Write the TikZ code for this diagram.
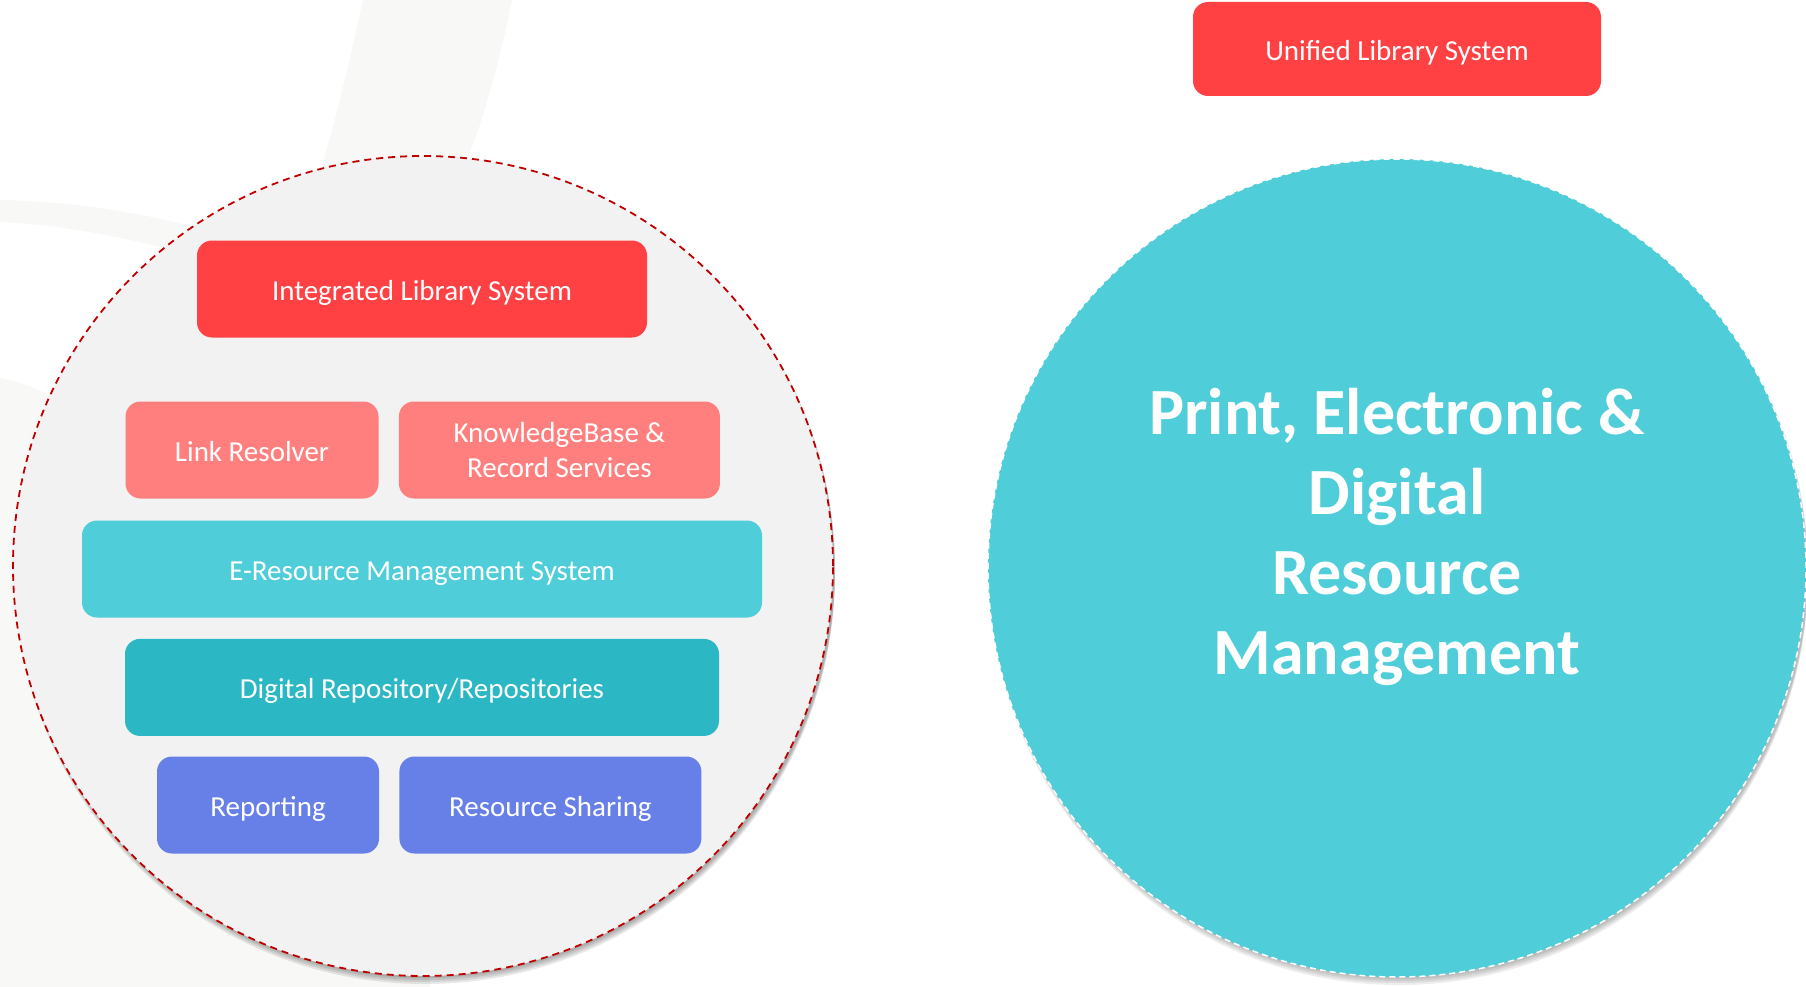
\documentclass[tikz,border=0pt]{standalone}
\usepackage{fontspec}
\setmainfont{Carlito}
\usepackage{xcolor}
\usetikzlibrary{positioning, shapes.geometric}

\definecolor{ilsred}{HTML}{FF4144}
\definecolor{linkpink}{HTML}{FF7F7F}
\definecolor{erscyan}{HTML}{4FCDD8}
\definecolor{repoteal}{HTML}{2BB7C3}
\definecolor{sharblue}{HTML}{6780E8}
\definecolor{ringgray}{HTML}{F2F2F2}
\definecolor{ringred}{HTML}{C00000}
\definecolor{swooshgray}{HTML}{F8F8F7}

\tikzset{
  layerbox/.style={
    rounded corners=15pt, align=center, text=white, inner sep=0pt,
    font=\fontsize{29}{35}\selectfont, minimum height=97pt
  },
  linebox/.style={
    layerbox, text height=25pt, text depth=2pt
  },
  ringnode/.style={
    circle, minimum size=820pt, inner sep=0pt
  },
  bigtext/.style={
    align=center, text=white,
    font=\fontsize{66}{80}\selectfont\bfseries
  },
}

\begin{document}
\begin{tikzpicture}[x=1pt, y=-1pt]
  \useasboundingbox (0,0) rectangle (1806,987);

  % ── faint background swooshes ──
  \fill[swooshgray] (363,0) -- (512,0)
    .. controls (500,60) and (485,115) .. (467,160) -- (455,220)
    -- (315,220) -- (325,155) .. controls (338,110) and (350,60) .. (363,0);
  \fill[swooshgray] (0,200) .. controls (80,202) and (150,212) .. (260,245)
    -- (260,275) .. controls (150,242) and (80,226) .. (0,222) -- cycle;
  \fill[swooshgray] (0,378) .. controls (25,382) and (50,394) .. (120,430)
    -- (423,700) -- (430,987) -- (0,987) -- cycle;

  % ── left ring: integrated system ──
  \foreach \s in {2,4,6,8}
    \fill[black, opacity=0.09] (425,{566+\s}) circle (410);
  \node[ringnode, fill=ringgray, draw=ringred, line width=1.8pt,
    dash pattern=on 7pt off 5pt] (ilsring) at (423,566) {};

  \node[linebox, fill=ilsred, minimum width=450pt] (ils) at (422,289)
    {Integrated Library System};

  \node[linebox, fill=linkpink, minimum width=253pt] (link) at (252,450)
    {Link Resolver};
  \node[layerbox, fill=linkpink, minimum width=321pt, right=20pt of link] (kb)
    {KnowledgeBase \&\\Record Services};

  \node[linebox, fill=erscyan, minimum width=680pt] (ers) at (422,569)
    {E-Resource Management System};
  \node[linebox, fill=repoteal, minimum width=594pt, below=21pt of ers] (repo)
    {Digital Repository/Repositories};

  \node[linebox, fill=sharblue, minimum width=222pt] (report) at (268,805)
    {Reporting};
  \node[linebox, fill=sharblue, minimum width=302pt, right=20pt of report] (share)
    {Resource Sharing};

  % ── right ring: unified system ──
  \node[linebox, fill=ilsred, minimum width=408pt, minimum height=94pt] (uls)
    at (1397,49) {Unified Library System};

  \foreach \s in {2,4,6,8}
    \fill[black, opacity=0.07] (1399,{568+\s}) circle (409);
  \node[ringnode, minimum size=818pt, fill=erscyan, draw=white, line width=1.5pt,
    dash pattern=on 6pt off 4pt] (ulsring) at (1397,568) {};

  \node[bigtext] (prdm) at (1397,537)
    {Print, Electronic \&\\Digital\\Resource\\Management};
\end{tikzpicture}
\end{document}
